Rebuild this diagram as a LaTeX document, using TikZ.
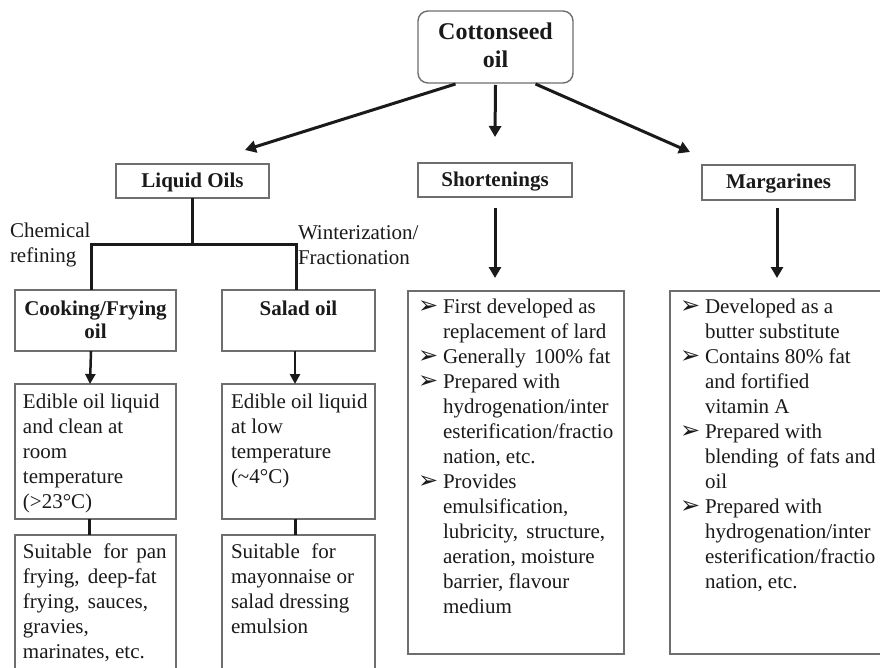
\documentclass[tikz,border=0pt]{standalone}
\usepackage{fontspec}
\setmainfont{Liberation Serif}
\newfontfamily\dingfont{DejaVu Sans}
\usetikzlibrary{arrows.meta,calc}
\definecolor{boxgray}{HTML}{6E6E6E}
\definecolor{ink}{HTML}{1A1A1A}
\newcommand\bodyfont{\fontsize{21}{25}\selectfont}
\newcommand\bul{{\dingfont\fontsize{24}{24}\selectfont ➢}}
\begin{document}
\begin{tikzpicture}[x=1pt,y=-1pt,
  box/.style={draw=boxgray, line width=1.4pt, inner sep=0pt, outer sep=0pt, anchor=north west},
  txt/.style={inner sep=0pt, outer sep=0pt, text=ink},
  arr/.style={draw=ink, line width=3pt, -{Triangle[length=11pt,width=12pt]}},
  smallarr/.style={draw=ink, line width=2.5pt, -{Triangle[length=10pt,width=10pt]}},
  tree/.style={draw=ink, line width=3pt},
]
\useasboundingbox (0,0) rectangle (880,668);
\clip (0,0) rectangle (880,668);
\fill[white] (0,0) rectangle (880,668);

% boxes
\node[box, rounded corners=10pt, minimum width=155pt, minimum height=72pt] (top) at (418,11) {};
\node[box, minimum width=153pt, minimum height=34pt] (liquid) at (116,164) {};
\node[box, minimum width=154pt, minimum height=34pt] (short) at (418,163) {};
\node[box, minimum width=153pt, minimum height=35pt] (marg) at (702,165) {};
\node[box, minimum width=161pt, minimum height=61pt] (cook) at (15,290) {};
\node[box, minimum width=153pt, minimum height=61pt] (salad) at (222,290) {};
\node[box, minimum width=161pt, minimum height=135pt] (edibleA) at (15,384) {};
\node[box, minimum width=153pt, minimum height=135pt] (edibleB) at (222,384) {};
\node[box, minimum width=161pt, minimum height=160pt] (suitA) at (15,535) {};
\node[box, minimum width=153pt, minimum height=160pt] (suitB) at (222,535) {};
\node[box, minimum width=216pt, minimum height=363pt] (shortlist) at (408,291) {};
\node[box, minimum width=240pt, minimum height=363pt] (marglist) at (670,291) {};

% titles
\node[txt, anchor=north, font=\bfseries\fontsize{24}{28}\selectfont] (topT) at (495.5,20.4)
  {\begin{tabular}{@{}c@{}}Cottonseed\\oil\end{tabular}};
\node[txt, anchor=base, font=\bfseries\bodyfont] (liquidT) at (192.5,188) {Liquid Oils};
\node[txt, anchor=base, font=\bfseries\bodyfont] (shortT) at (495,187) {Shortenings};
\node[txt, anchor=base, font=\bfseries\bodyfont] (margT) at (778.5,189) {Margarines};
\node[txt, anchor=north, font=\bfseries\fontsize{21}{23}\selectfont] (cookT) at (95.5,298.9)
  {\begin{tabular}{@{}c@{}}Cooking/Frying\\oil\end{tabular}};
\node[txt, anchor=base, font=\bfseries\bodyfont] (saladT) at (298.5,315) {Salad oil};

% process labels
\node[txt, anchor=north west, font=\fontsize{21}{24}\selectfont] (chem) at (10,221.2)
  {\begin{tabular}{@{}l@{}}Chemical\\refining\end{tabular}};
\node[txt, anchor=north west, font=\bodyfont] (wint) at (298,222.5)
  {\begin{tabular}{@{}l@{}}Winterization/\\Fractionation\end{tabular}};

% descriptions
\node[txt, anchor=north west, font=\bodyfont] (edibleAT) at (23,390.5)
  {\begin{tabular}{@{}l@{}}Edible oil liquid\\and clean at\\room\\temperature\\(>23°C)\end{tabular}};
\node[txt, anchor=north west, font=\bodyfont] (edibleBT) at (231,390.5)
  {\begin{tabular}{@{}l@{}}Edible oil liquid\\at low\\temperature\\(\textasciitilde 4°C)\end{tabular}};
\node[txt, anchor=north west, font=\bodyfont] (suitAT) at (23,540.5)
  {\begin{tabular}{@{}l@{}}Suitable\hspace{0.3em} for\hspace{0.15em} pan\\frying,\hspace{0.15em} deep-fat\\frying,\hspace{0.15em} sauces,\\gravies,\\marinates, etc.\end{tabular}};
\node[txt, anchor=north west, font=\bodyfont] (suitBT) at (231,540.5)
  {\begin{tabular}{@{}l@{}}Suitable\hspace{0.3em} for\\mayonnaise or\\salad dressing\\emulsion\end{tabular}};

% bullet lists
\node[txt, anchor=north west, font=\bodyfont] (shortL) at (418,295.5)
  {\begin{tabular}{@{}p{25pt}@{}l@{}}
  \bul & First developed as\\
       & replacement of lard\\
  \bul & Generally\hspace{0.15em} 100\% fat\\
  \bul & Prepared with\\
       & hydrogenation/inter\\
       & esterification/fractio\\
       & nation, etc.\\
  \bul & Provides\\
       & emulsification,\\
       & lubricity,\hspace{0.15em} structure,\\
       & aeration, moisture\\
       & barrier, flavour\\
       & medium
  \end{tabular}};
\node[txt, anchor=north west, font=\bodyfont] (margL) at (680,295.5)
  {\begin{tabular}{@{}p{25pt}@{}l@{}}
  \bul & Developed as a\\
       & butter substitute\\
  \bul & Contains 80\% fat\\
       & and fortified\\
       & vitamin A\\
  \bul & Prepared with\\
       & blending\hspace{0.15em} of fats and\\
       & oil\\
  \bul & Prepared with\\
       & hydrogenation/inter\\
       & esterification/fractio\\
       & nation, etc.
  \end{tabular}};

% connectors from the top box
\draw[arr] ($(top.south)+(-40,1)$) -- ($(liquid.north)+(52.5,-14)$);
\draw[arr] ($(top.south)+(0,2)$) -- ($(short.north)+(0,-26)$);
\draw[arr] ($(top.south)+(40,1)$) -- ($(marg.north)+(-88.5,-13)$);

% liquid oils branching
\draw[tree] (liquid.south) -- ++(0,47) coordinate (j);
\draw[tree] ($(cook.north)+(-4.5,0)$) |- (j) -| ($(salad.north)+(-2.5,0)$);

% downward links
\draw[smallarr] ($(cook.south)+(-4.5,0)$) -- ($(edibleA.north)+(-5.5,0)$);
\draw[smallarr] ($(salad.south)+(-3.5,0)$) -- ($(edibleB.north)+(-3.5,0)$);
\draw[tree] ($(edibleA.south)+(-6.5,0)$) -- ($(suitA.north)+(-6.5,0)$);
\draw[tree] ($(edibleB.south)+(-3.5,0)$) -- ($(suitB.north)+(-3.5,0)$);
\draw[arr] ($(short.south)+(0,11)$) -- ($(shortlist.north)+(-21,-13)$);
\draw[arr] ($(marg.south)+(-1.5,8)$) -- ($(marglist.north)+(-13,-13)$);
\end{tikzpicture}
\end{document}
